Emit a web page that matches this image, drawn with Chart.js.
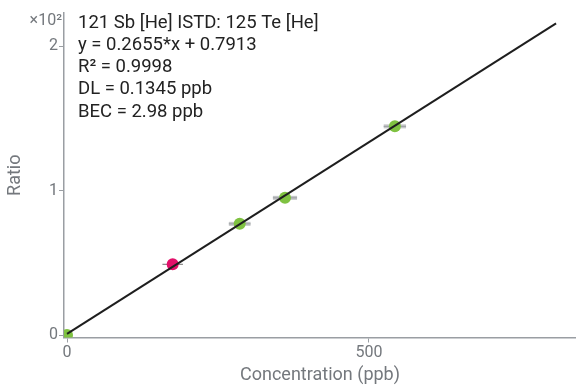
<!DOCTYPE html>
<html>
<head>
<meta charset="utf-8">
<script src="https://cdn.jsdelivr.net/npm/chart.js@4/dist/chart.umd.min.js"></script>
<style>
  html, body { margin: 0; padding: 0; background: #fff; }
  #wrap { width: 576px; height: 392px; }
</style>
</head>
<body>
<div id="wrap"><canvas id="c" width="576" height="392"></canvas></div>
<script>
// Calibration standards: concentration (ppb) vs. signal ratio
const stdConc   = [0, 286, 361, 543];
const stdRatio  = [0, 77.0, 95.0, 144.5];
const stdErr    = [0, 18, 20, 18.5];
// Sample point
const smpConc   = [175];
const smpRatio  = [49];
const smpErr    = [17];
// Fit
const fitSlope = 0.2655;
const fitIntercept = 0.7913;
const fitRange = [0, 810];
const xTicks = [0, 500];
const yTicks = [0, 100, 200];
const infoLines = [
  "121 Sb [He] ISTD: 125 Te [He]",
  "y = 0.2655*x + 0.7913",
  "R\u00B2 = 0.9998",
  "DL = 0.1345 ppb",
  "BEC = 2.98 ppb"
];

const axisColor = '#9a9ea3';
const textColor = '#74787d';
const FONT = 'Roboto, "Liberation Sans", sans-serif';

const fitPts = fitRange.map(x => ({x, y: fitSlope * x + fitIntercept}));
const stdPts = stdConc.map((x, i) => ({x, y: stdRatio[i]}));
const smpPts = smpConc.map((x, i) => ({x, y: smpRatio[i]}));

// horizontal error bars, drawn beneath the markers
const errorBars = {
  id: 'errorBars',
  beforeDatasetsDraw(chart) {
    const {ctx, scales: {x, y}} = chart;
    ctx.save();
    stdConc.forEach((c, i) => {
      if (!stdErr[i]) return;
      const py = y.getPixelForValue(stdRatio[i]);
      const x0 = x.getPixelForValue(c - stdErr[i]);
      const x1 = x.getPixelForValue(c + stdErr[i]);
      ctx.strokeStyle = '#c4c6c8';
      ctx.lineWidth = 4;
      ctx.beginPath(); ctx.moveTo(x0, py); ctx.lineTo(x1, py); ctx.stroke();
      ctx.strokeStyle = '#9c9fa2';
      ctx.lineWidth = 1;
      ctx.beginPath(); ctx.moveTo(x0, py); ctx.lineTo(x1, py); ctx.stroke();
    });
    smpConc.forEach((c, i) => {
      const py = y.getPixelForValue(smpRatio[i]);
      const x0 = x.getPixelForValue(c - smpErr[i]);
      const x1 = x.getPixelForValue(c + smpErr[i]);
      ctx.strokeStyle = '#6e6e6e';
      ctx.lineWidth = 1;
      ctx.beginPath(); ctx.moveTo(x0, py); ctx.lineTo(x1, py); ctx.stroke();
    });
    ctx.restore();
  }
};

// fit summary text and axis multiplier
const infoText = {
  id: 'infoText',
  afterDraw(chart) {
    const {ctx, chartArea} = chart;
    ctx.save();
    ctx.fillStyle = '#222';
    ctx.font = '18.5px ' + FONT;
    ctx.textBaseline = 'alphabetic';
    infoLines.forEach((t, i) => {
      ctx.fillText(t, chartArea.left + 14, 28.3 + i * 22.05);
    });
    ctx.fillStyle = textColor;
    ctx.font = '16px ' + FONT;
    ctx.textAlign = 'right';
    ctx.fillText('\u00D710\u00B2', chartArea.left - 2, 25);
    ctx.restore();
  }
};

new Chart(document.getElementById('c'), {
  type: 'scatter',
  data: {
    datasets: [
      {
        type: 'line', data: fitPts, borderColor: '#1e1e1e', borderWidth: 2,
        pointRadius: 0, fill: false, order: 0
      },
      {
        data: stdPts, backgroundColor: '#7fc241', borderWidth: 0,
        pointRadius: 6, order: 2
      },
      {
        data: smpPts, backgroundColor: '#e2106a', borderWidth: 0,
        pointRadius: 6, order: 1
      }
    ]
  },
  options: {
    responsive: false,
    animation: false,
    layout: { autoPadding: false, padding: { top: 13, right: 0, left: 0, bottom: 0 } },
    plugins: { legend: { display: false }, tooltip: { enabled: false } },
    scales: {
      x: {
        type: 'linear', min: -5, max: 843,
        afterBuildTicks(s) { s.ticks = xTicks.map(v => ({value: v})); },
        afterFit(s) { s.height = 54.5; },
        border: { display: true, color: axisColor, width: 1.5 },
        grid: { display: true, drawOnChartArea: false, drawTicks: true, tickLength: 5, color: axisColor },
        ticks: { color: textColor, font: { family: FONT, size: 16 }, padding: 1, maxRotation: 0 },
        title: { display: true, text: 'Concentration (ppb)', color: textColor, font: { family: FONT, size: 18 }, padding: { top: 0, bottom: 6 } }
      },
      y: {
        type: 'linear', min: -1.7, max: 223,
        afterBuildTicks(s) { s.ticks = yTicks.map(v => ({value: v})); },
        afterFit(s) { s.width = 64; },
        border: { display: true, color: axisColor, width: 1.5 },
        grid: { display: true, drawOnChartArea: false, drawTicks: true, tickLength: 5, color: axisColor },
        ticks: { color: textColor, font: { family: FONT, size: 16 }, padding: 1, callback: v => String(v / 100) },
        title: { display: true, text: 'Ratio', color: textColor, font: { family: FONT, size: 18 }, padding: { top: 5, bottom: 0 } }
      }
    }
  },
  plugins: [errorBars, infoText]
});
</script>
</body>
</html>
